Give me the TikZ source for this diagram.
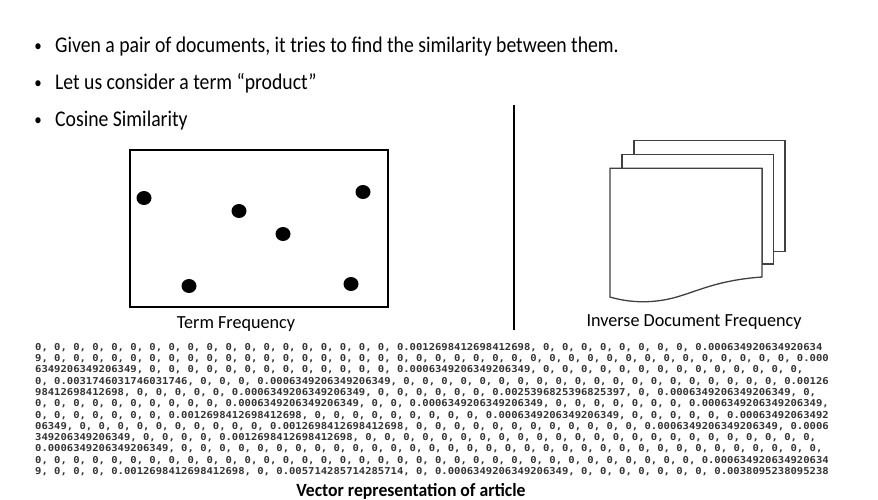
\documentclass[tikz,border=0pt]{standalone}
\usepackage{fontspec}
\newfontfamily\slidefont[FakeStretch=0.88]{Carlito}
\newfontfamily\labelfont[FakeStretch=0.98]{Carlito}
\newfontfamily\titlefont[FakeStretch=0.95]{Carlito}
\newfontfamily\vecfont[FakeStretch=1.11]{DejaVu Sans Mono}

\tikzset{
  bullettext/.style={anchor=base west, inner sep=0pt, font=\slidefont\fontsize{22.4}{26}\selectfont},
  bulletdot/.style={anchor=base, inner sep=0pt, font=\slidefont\fontsize{17}{20}\selectfont},
  caption/.style={anchor=base, inner sep=0pt, font=\labelfont\fontsize{18.5}{22}\selectfont},
  termdot/.style={fill=black, draw=none},
  page/.style={draw=black!75, line width=1.3pt, fill=white, line join=miter},
  vectext/.style={anchor=base west, inner sep=0pt, align=left, text=black!80,
    font=\vecfont\bfseries\fontsize{9.5}{11.3}\selectfont},
}

\begin{document}
\begin{tikzpicture}[x=1pt, y=-1pt]
  \useasboundingbox[fill=white] (0,0) rectangle (878,499);

  % bullet list
  \node[bulletdot] (b1) at (38,51) {•};
  \node[bullettext] (t1) at (55,52) {Given a pair of documents, it tries to find the similarity between them.};
  \node[bulletdot] (b2) at (38,88) {•};
  \node[bullettext] (t2) at (55,89) {Let us consider a term “product”};
  \node[bulletdot] (b3) at (38,125) {•};
  \node[bullettext] (t3) at (55,126) {Cosine Similarity};

  % term frequency panel
  \draw[line width=1.3pt] (130,150) rectangle (388,307);
  \foreach \n/\px/\py in {d1/144/198, d2/239/211, d3/283/234, d4/363/192, d5/189/286, d6/351/284}
    \fill[termdot] (\px,\py) ellipse [x radius=7.5, y radius=7];
  \node[caption] (tf) at (236,328) {Term Frequency};

  % divider
  \coordinate (vtop) at (514,105);
  \coordinate (vbot) at (514,330);
  \draw[line width=1.2pt] (vtop) -- (vbot);

  % stacked documents (back to front)
  \draw[page] (634,140.7) -- (785,140.7) -- (785,251.5) -- (773.3,251.5) -- (773.3,154.3) -- (634,154.3) -- cycle;
  \draw[page] (622,154.3) -- (773.3,154.3) -- (773.3,264) -- (762,264) -- (762,168.3) -- (622,168.3) -- cycle;
  \draw[page] (610,168.3) -- (762,168.3) -- (762,277)
     .. controls (720,280) and (700,290) .. (680,296)
     .. controls (655,304) and (630,303) .. (610,297) -- cycle;
  \node[caption] (idf) at (694,326) {Inverse Document Frequency};

  % vector (anchored at the baseline of its last row)
  \node[vectext] (vec) at (35,474.5) {%
0, 0, 0, 0, 0, 0, 0, 0, 0, 0, 0, 0, 0, 0, 0, 0, 0, 0, 0, 0.0012698412698412698, 0, 0, 0, 0, 0, 0, 0, 0, 0.000634920634920634\\
9, 0, 0, 0, 0, 0, 0, 0, 0, 0, 0, 0, 0, 0, 0, 0, 0, 0, 0, 0, 0, 0, 0, 0, 0, 0, 0, 0, 0, 0, 0, 0, 0, 0, 0, 0, 0, 0, 0, 0, 0.000\\
6349206349206349, 0, 0, 0, 0, 0, 0, 0, 0, 0, 0, 0, 0, 0, 0.0006349206349206349, 0, 0, 0, 0, 0, 0, 0, 0, 0, 0, 0, 0, 0, 0,\\
0, 0.0031746031746031746, 0, 0, 0, 0.0006349206349206349, 0, 0, 0, 0, 0, 0, 0, 0, 0, 0, 0, 0, 0, 0, 0, 0, 0, 0, 0, 0, 0.00126\\
98412698412698, 0, 0, 0, 0, 0, 0.0006349206349206349, 0, 0, 0, 0, 0, 0, 0.0025396825396825397, 0, 0.0006349206349206349, 0,\\
0, 0, 0, 0, 0, 0, 0, 0, 0, 0, 0.0006349206349206349, 0, 0, 0.0006349206349206349, 0, 0, 0, 0, 0, 0, 0, 0.0006349206349206349,\\
0, 0, 0, 0, 0, 0, 0, 0.0012698412698412698, 0, 0, 0, 0, 0, 0, 0, 0, 0, 0.0006349206349206349, 0, 0, 0, 0, 0, 0.00063492063492\\
06349, 0, 0, 0, 0, 0, 0, 0, 0, 0, 0, 0.0012698412698412698, 0, 0, 0, 0, 0, 0, 0, 0, 0, 0, 0, 0, 0.0006349206349206349, 0.0006\\
349206349206349, 0, 0, 0, 0, 0.0012698412698412698, 0, 0, 0, 0, 0, 0, 0, 0, 0, 0, 0, 0, 0, 0, 0, 0, 0, 0, 0, 0, 0, 0, 0, 0,\\
0.0006349206349206349, 0, 0, 0, 0, 0, 0, 0, 0, 0, 0, 0, 0, 0, 0, 0, 0, 0, 0, 0, 0, 0, 0, 0, 0, 0, 0, 0, 0, 0, 0, 0, 0, 0, 0,\\
0, 0, 0, 0, 0, 0, 0, 0, 0, 0, 0, 0, 0, 0, 0, 0, 0, 0, 0, 0, 0, 0, 0, 0, 0, 0, 0, 0, 0, 0, 0, 0, 0, 0, 0, 0.000634920634920634\\
9, 0, 0, 0, 0.0012698412698412698, 0, 0.005714285714285714, 0, 0.0006349206349206349, 0, 0, 0, 0, 0, 0, 0, 0.0038095238095238};
  \node[caption, font=\titlefont\bfseries\fontsize{18.6}{22}\selectfont] (title) at (411,496) {Vector representation of article};
\end{tikzpicture}
\end{document}
